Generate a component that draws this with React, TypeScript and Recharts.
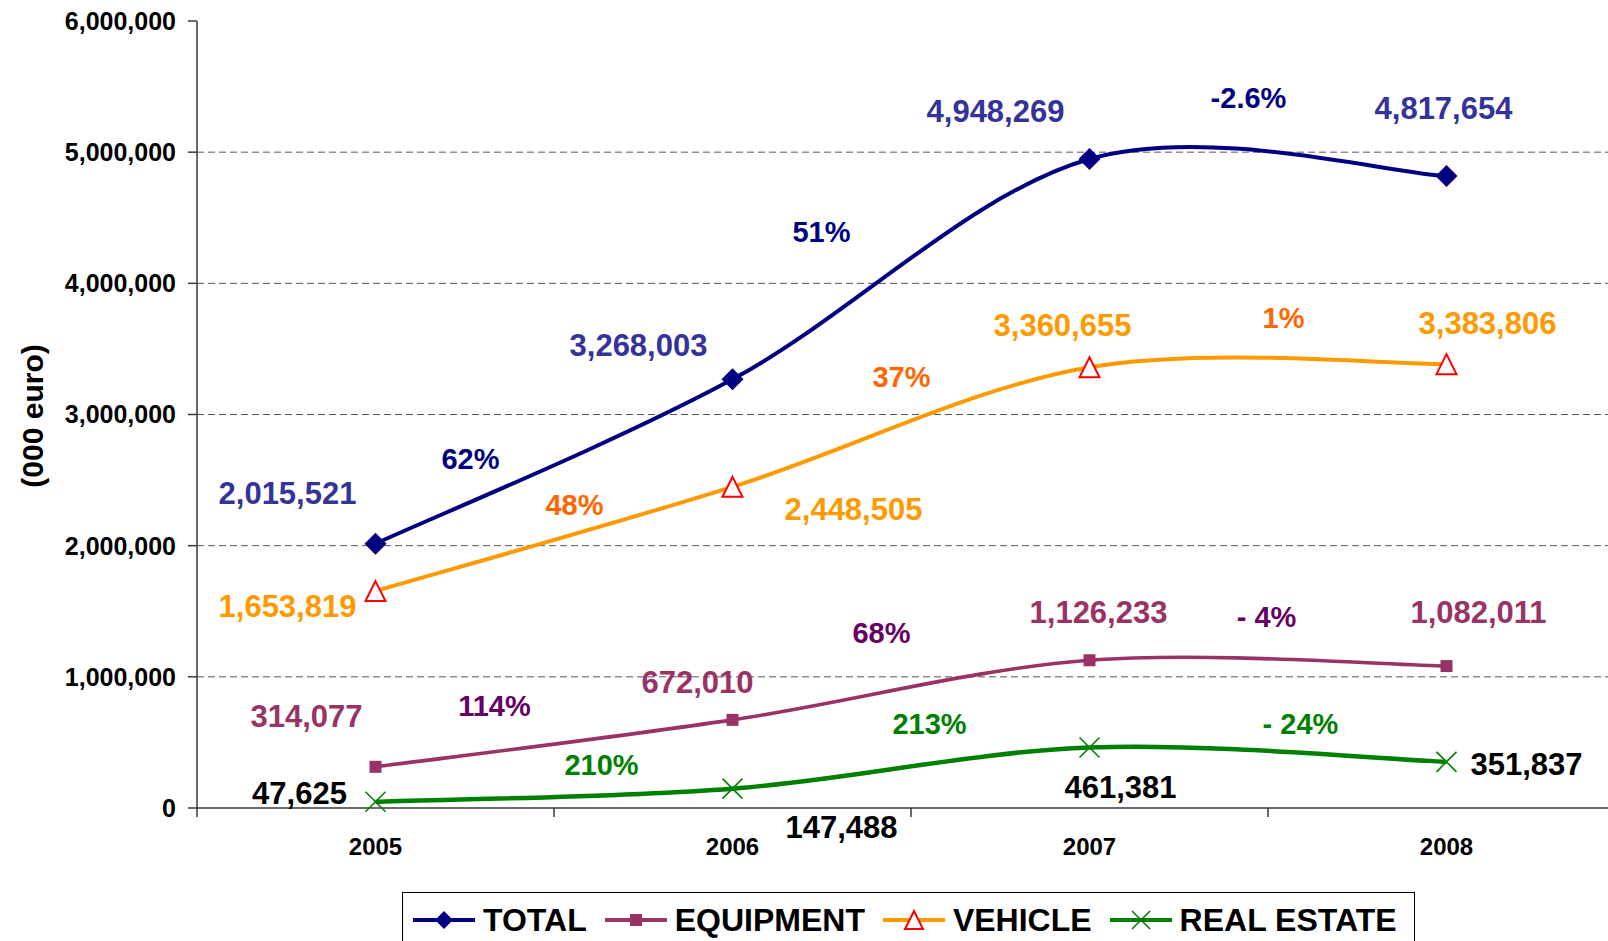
import { FC } from 'react'
import { LineChart, Line, XAxis, YAxis, ReferenceLine, LabelList, Legend, Label } from 'recharts'

const FONT = '"Liberation Sans", Arial, Helvetica, sans-serif'
const AXIS = '#3a3a3a'

const YEARS = ['2005', '2006', '2007', '2008']
const TOTAL = [2015521, 3268003, 4948269, 4817654]
const EQUIPMENT = [314077, 672010, 1126233, 1082011]
const VEHICLE = [1653819, 2448505, 3360655, 3383806]
const REAL_ESTATE = [47625, 147488, 461381, 351837]

const TOTAL_GROWTH = ['62%', '51%', '-2.6%']
const EQUIPMENT_GROWTH = ['114%', '68%', '- 4%']
const VEHICLE_GROWTH = ['48%', '37%', '1%']
const REAL_ESTATE_GROWTH = ['210%', '213%', '- 24%']

const Y_TICKS = [0, 1000000, 2000000, 3000000, 4000000, 5000000, 6000000]
const GRID_LINES = [1000000, 2000000, 3000000, 4000000, 5000000]

// label offsets (px) from each point
const TOTAL_VALUE_POS = [[-88, -51], [-94, -35], [-94, -48], [-3, -68]]
const TOTAL_GROWTH_POS = [[95, -85], [89, -148], [159, -61]]
const VEHICLE_VALUE_POS = [[-88, 15], [121, 22], [-27, -42], [41, -41]]
const VEHICLE_GROWTH_POS = [[199, -87], [169, -110], [194, -50]]
const EQUIPMENT_VALUE_POS = [[-69, -51], [-35, -38], [9, -48], [32, -54]]
const EQUIPMENT_GROWTH_POS = [[119, -61], [149, -87], [177, -44]]
const REAL_ESTATE_VALUE_POS = [[-76, -9], [109, 38], [31, 39], [80, 2]]
const REAL_ESTATE_GROWTH_POS = [[226, -37], [197, -65], [211, -24]]

const rows = YEARS.map((year, i) => ({
    x: i + 0.5,
    year,
    total: TOTAL[i],
    equipment: EQUIPMENT[i],
    vehicle: VEHICLE[i],
    realEstate: REAL_ESTATE[i],
}))

// excel-like smoothed line (catmull-rom through the points)
const smooth = (context: any) => {
    let pts: number[][] = []
    return {
        areaStart() {},
        areaEnd() {},
        lineStart() { pts = [] },
        point(x: number, y: number) { pts.push([+x, +y]) },
        lineEnd() {
            if (!pts.length) return
            context.moveTo(pts[0][0], pts[0][1])
            for (let i = 0; i < pts.length - 1; i++) {
                const p0 = pts[i - 1] || pts[i]
                const p1 = pts[i]
                const p2 = pts[i + 1]
                const p3 = pts[i + 2] || p2
                context.bezierCurveTo(
                    p1[0] + (p2[0] - p0[0]) / 6, p1[1] + (p2[1] - p0[1]) / 6,
                    p2[0] - (p3[0] - p1[0]) / 6, p2[1] - (p3[1] - p1[1]) / 6,
                    p2[0], p2[1],
                )
            }
        },
    }
}

const fmt = (v: number) => v.toLocaleString('en-US')

const makeLabels = (valuePos: number[][], growth: string[], growthPos: number[][], valueColor: string, growthColor: string) =>
    (props: any) => {
        const x = props.x ?? props.viewBox?.x
        const y = props.y ?? props.viewBox?.y
        const i = props.index
        return (
            <g key={`lbl-${i}`}>
                <text x={x + valuePos[i][0]} y={y + valuePos[i][1]} dy="0.36em" textAnchor="middle"
                    fontFamily={FONT} fontSize={31} fontWeight="bold" fill={valueColor}>
                    {fmt(Number(props.value))}
                </text>
                {i < growth.length && (
                    <text x={x + growthPos[i][0]} y={y + growthPos[i][1]} dy="0.36em" textAnchor="middle"
                        fontFamily={FONT} fontSize={29} fontWeight="bold" fill={growthColor}>
                        {growth[i]}
                    </text>
                )}
            </g>
        )
    }

const Diamond = ({ cx, cy, size = 11, color = '#000080' }: any) => (
    <polygon points={`${cx},${cy - size} ${cx + size},${cy} ${cx},${cy + size} ${cx - size},${cy}`} fill={color} />
)
const Square = ({ cx, cy, size = 6, color = '#993366' }: any) => (
    <rect x={cx - size} y={cy - size} width={size * 2} height={size * 2} fill={color} />
)
const Triangle = ({ cx, cy, size = 10 }: any) => (
    <polygon points={`${cx},${cy - size} ${cx + size},${cy + size} ${cx - size},${cy + size}`}
        fill="#fff" stroke="#FF0000" strokeWidth={2} />
)
const Cross = ({ cx, cy, size = 10 }: any) => (
    <g stroke="#008000" strokeWidth={1.6}>
        <line x1={cx - size} y1={cy - size} x2={cx + size} y2={cy + size} />
        <line x1={cx - size} y1={cy + size} x2={cx + size} y2={cy - size} />
    </g>
)

const XTick = (props: any) => {
    const { x, y, payload } = props
    const v = payload.value
    if (Number.isInteger(v)) {
        return <line x1={x} y1={y - 9} x2={x} y2={y} stroke={AXIS} strokeWidth={1.5} />
    }
    return (
        <text x={x} y={y + 38} textAnchor="middle" fontFamily={FONT} fontSize={24} fontWeight="bold" fill="#000">
            {YEARS[Math.floor(v)]}
        </text>
    )
}

const YTitle = (props: any) => {
    const vb = props.viewBox || { x: 0, y: 21, width: 197, height: 787 }
    const cx = vb.x + 32
    const cy = vb.y + vb.height / 2 + 1.5
    return (
        <text x={cx} y={cy} transform={`rotate(-90 ${cx} ${cy})`} textAnchor="middle" dy="0.36em"
            fontFamily={FONT} fontSize={30} fontWeight="bold" fill="#000">
            (000 euro)
        </text>
    )
}

const LEGEND_ITEMS = [
    { name: 'TOTAL', color: '#000080', marker: 'diamond' },
    { name: 'EQUIPMENT', color: '#993366', marker: 'square' },
    { name: 'VEHICLE', color: '#FF9900', marker: 'triangle' },
    { name: 'REAL ESTATE', color: '#008000', marker: 'cross' },
]

const LegendBox = () => (
    <div style={{
        boxSizing: 'border-box', width: 1013, height: 60, border: '1px solid #000', background: '#fff',
        display: 'flex', alignItems: 'flex-start', paddingLeft: 10, paddingTop: 12,
    }}>
        {LEGEND_ITEMS.map((item, i) => (
            <div key={item.name} style={{ display: 'flex', alignItems: 'flex-start', marginLeft: i ? 18 : 0 }}>
                <svg width={62} height={30} style={{ marginRight: 8, display: 'block' }}>
                    <line x1={0} y1={15} x2={62} y2={15} stroke={item.color} strokeWidth={4} strokeLinecap="round" />
                    {item.marker === 'diamond' && <Diamond cx={31} cy={15} size={9} />}
                    {item.marker === 'square' && <Square cx={31} cy={15} size={6} />}
                    {item.marker === 'triangle' && <Triangle cx={31} cy={15} size={9} />}
                    {item.marker === 'cross' && <Cross cx={31} cy={15} size={9} />}
                </svg>
                <span style={{ fontFamily: FONT, fontSize: 32, fontWeight: 'bold', lineHeight: '30px', color: '#000', whiteSpace: 'nowrap' }}>
                    {item.name}
                </span>
            </div>
        ))}
    </div>
)

const App: FC = () => {
    return (
        <div style={{ position: 'absolute', left: 0, top: 0, width: 1608, height: 941, overflow: 'hidden', background: '#fff', fontFamily: FONT }}>
            <LineChart width={1630} height={941} data={rows} margin={{ top: 21, right: 5, left: 0, bottom: 73 }}>
                <XAxis dataKey="x" type="number" domain={[0, 4]} ticks={[0, 0.5, 1, 1.5, 2, 2.5, 3, 3.5, 4]}
                    interval={0} height={60} tickSize={9} tickMargin={0} tickLine={false}
                    axisLine={{ stroke: AXIS, strokeWidth: 1.5 }} tick={<XTick />} />
                <YAxis type="number" domain={[0, 6000000]} ticks={Y_TICKS} interval={0} width={197}
                    tickFormatter={fmt} tickSize={9} tickMargin={12}
                    axisLine={{ stroke: AXIS, strokeWidth: 1.5 }} tickLine={{ stroke: AXIS, strokeWidth: 1.5 }}
                    tick={{ fontFamily: FONT, fontSize: 25, fontWeight: 'bold', fill: '#000' }}>
                    <Label content={YTitle} />
                </YAxis>
                {GRID_LINES.map(v => (
                    <ReferenceLine key={v} y={v} stroke="#555" strokeWidth={1} strokeDasharray="7 4" />
                ))}
                <Line dataKey="realEstate" type={smooth as any} stroke="#008000" strokeWidth={4.5}
                    dot={(p: any) => <Cross key={`re-${p.index}`} cx={p.cx} cy={p.cy} />}
                    activeDot={false} isAnimationActive={false}>
                    <LabelList dataKey="realEstate"
                        content={makeLabels(REAL_ESTATE_VALUE_POS, REAL_ESTATE_GROWTH, REAL_ESTATE_GROWTH_POS, '#000', '#008000')} />
                </Line>
                <Line dataKey="equipment" type={smooth as any} stroke="#993366" strokeWidth={3.6}
                    dot={(p: any) => <Square key={`eq-${p.index}`} cx={p.cx} cy={p.cy} />}
                    activeDot={false} isAnimationActive={false}>
                    <LabelList dataKey="equipment"
                        content={makeLabels(EQUIPMENT_VALUE_POS, EQUIPMENT_GROWTH, EQUIPMENT_GROWTH_POS, '#993366', '#660066')} />
                </Line>
                <Line dataKey="vehicle" type={smooth as any} stroke="#FF9900" strokeWidth={4}
                    dot={(p: any) => <Triangle key={`ve-${p.index}`} cx={p.cx} cy={p.cy} />}
                    activeDot={false} isAnimationActive={false}>
                    <LabelList dataKey="vehicle"
                        content={makeLabels(VEHICLE_VALUE_POS, VEHICLE_GROWTH, VEHICLE_GROWTH_POS, '#FF9900', '#FF6600')} />
                </Line>
                <Line dataKey="total" type={smooth as any} stroke="#000080" strokeWidth={4}
                    dot={(p: any) => <Diamond key={`to-${p.index}`} cx={p.cx} cy={p.cy} />}
                    activeDot={false} isAnimationActive={false}>
                    <LabelList dataKey="total"
                        content={makeLabels(TOTAL_VALUE_POS, TOTAL_GROWTH, TOTAL_GROWTH_POS, '#333399', '#000080')} />
                </Line>
                <Legend layout="horizontal" verticalAlign="middle" align="center"
                    wrapperStyle={{ left: 402, top: 892, width: 1013, height: 60 }}
                    content={() => <LegendBox />} />
            </LineChart>
        </div>
    )
}

export default App
